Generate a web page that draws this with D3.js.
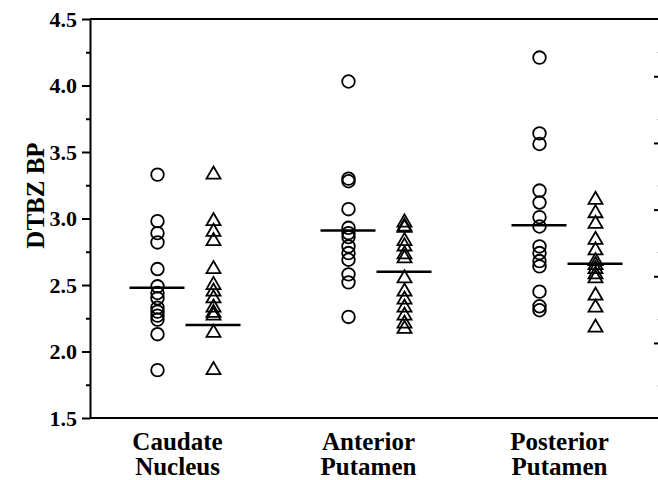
<!DOCTYPE html>
<html>
<head>
<meta charset="utf-8">
<script src="https://cdn.jsdelivr.net/npm/d3@7"></script>
<style>
  body { margin: 0; background: #fff; }
  text { font-family: 'Liberation Serif', 'Times New Roman', serif; font-weight: bold; }
</style>
</head>
<body>
<div id="canvas"></div>
<script>
const regions = ['Caudate Nucleus', 'Anterior Putamen', 'Posterior Putamen']
const labelLines = [['Caudate', 'Nucleus'], ['Anterior', 'Putamen'], ['Posterior', 'Putamen']]

// circles (first group of each region)
const circleValues = [
  [3.33, 2.98, 2.89, 2.82, 2.62, 2.49, 2.44, 2.40, 2.33, 2.30, 2.27, 2.24, 2.13, 1.86],
  [4.03, 3.30, 3.28, 3.07, 2.93, 2.89, 2.86, 2.79, 2.74, 2.69, 2.58, 2.52, 2.26],
  [4.21, 3.64, 3.56, 3.21, 3.12, 3.01, 2.94, 2.79, 2.74, 2.68, 2.64, 2.45, 2.34, 2.31]
]
// triangles (second group of each region)
const triangleValues = [
  [3.33, 2.98, 2.90, 2.83, 2.62, 2.50, 2.45, 2.40, 2.33, 2.29, 2.27, 2.14, 1.86],
  [2.97, 2.94, 2.93, 2.83, 2.79, 2.73, 2.70, 2.55, 2.45, 2.39, 2.33, 2.27, 2.21, 2.17],
  [3.14, 3.04, 2.96, 2.84, 2.76, 2.68, 2.65, 2.62, 2.58, 2.55, 2.42, 2.33, 2.18]
]
const circleMeans = [2.48, 2.91, 2.95]
const triangleMeans = [2.20, 2.60, 2.66]

const yTicks = [1.5, 2.0, 2.5, 3.0, 3.5, 4.0, 4.5]
const yMinorTicks = [1.75, 2.25, 2.75, 3.25, 3.75, 4.25]
// ticks of the neighbouring panel's axis at the right edge
const rightTicks = [2.0, 2.5, 3.0, 3.5, 4.0]
const rightMinorTicks = [1.68, 2.18, 2.68, 3.18, 3.68, 4.18]

const width = 658
const height = 480
const margin = { top: 19, bottom: 62, left: 90, right: -5 }

const svg = d3.select('#canvas')
  .append('svg')
    .attr('width', width)
    .attr('height', height)

const x = d3.scaleBand()
  .domain(regions)
  .range([margin.left, width - margin.right])

const y = d3.scaleLinear()
  .domain([1.5, 4.5])
  .range([height - margin.bottom, margin.top])

const yRight = d3.scaleLinear()
  .domain([1.5, 4.5])
  .range([409.6, 9.6])

const offset = 28

// frame lines top and bottom
svg.append('line')
  .attr('x1', margin.left).attr('x2', width - margin.right)
  .attr('y1', y(4.5)).attr('y2', y(4.5))
  .attr('stroke', '#000').attr('stroke-width', 2)
svg.append('line')
  .attr('x1', margin.left).attr('x2', width - margin.right)
  .attr('y1', y(1.5)).attr('y2', y(1.5))
  .attr('stroke', '#000').attr('stroke-width', 2)

// left axis
const yAxis = svg.append('g')
  .attr('transform', `translate(${margin.left}, 0)`)
  .call(d3.axisLeft(y)
    .tickValues(yTicks)
    .tickSize(8)
    .tickSizeOuter(0)
    .tickPadding(5)
    .tickFormat(d3.format('.1f')))
yAxis.select('.domain').attr('stroke-width', 2)
yAxis.selectAll('.tick line').attr('stroke-width', 2)
yAxis.selectAll('.tick text')
  .attr('font-size', '22px')
  .attr('font-family', "'Liberation Serif', serif")
  .attr('font-weight', 'bold')
  .attr('fill', '#000')

const yMinor = svg.append('g')
  .attr('transform', `translate(${margin.left}, 0)`)
  .call(d3.axisLeft(y).tickValues(yMinorTicks).tickSize(4).tickFormat(''))
yMinor.select('.domain').remove()
yMinor.selectAll('.tick line').attr('stroke-width', 2)

// right edge ticks
const rAxis = svg.append('g')
  .attr('transform', `translate(662, 0)`)
  .call(d3.axisLeft(yRight).tickValues(rightTicks).tickSize(8).tickFormat(''))
rAxis.select('.domain').remove()
rAxis.selectAll('.tick line').attr('stroke-width', 2)
const rMinor = svg.append('g')
  .attr('transform', `translate(660, 0)`)
  .call(d3.axisLeft(yRight).tickValues(rightMinorTicks).tickSize(3).tickFormat(''))
rMinor.select('.domain').remove()
rMinor.selectAll('.tick line').attr('stroke', '#aaa').attr('stroke-width', 1)

// y title
svg.append('text')
  .attr('transform', `translate(44, ${y(3.0) - 23}) rotate(-90)`)
  .attr('text-anchor', 'middle')
  .attr('font-size', '25px')
  .text('DTBZ BP')

// category labels
const labels = svg.append('g')
regions.forEach((r, i) => {
  const t = labels.append('text')
    .attr('text-anchor', 'middle')
    .attr('font-size', '25px')
    .attr('x', x(r) + x.bandwidth() / 2 - 8)
  labelLines[i].forEach((s, j) => {
    t.append('tspan')
      .attr('x', x(r) + x.bandwidth() / 2 - 8)
      .attr('y', 450 + j * 25)
      .text(s)
  })
})

const circleSym = d3.symbol().type(d3.symbolCircle).size(125)
const triSym = d3.symbol().type(d3.symbolTriangle).size(85)

regions.forEach((r, i) => {
  const cx = x(r) + x.bandwidth() / 2
  svg.append('g').selectAll('path')
    .data(circleValues[i])
    .join('path')
      .attr('d', circleSym)
      .attr('transform', d => `translate(${cx - offset}, ${y(d)})`)
      .attr('fill', 'none')
      .attr('stroke', '#000')
      .attr('stroke-width', 1.8)
  svg.append('g').selectAll('path')
    .data(triangleValues[i])
    .join('path')
      .attr('d', triSym)
      .attr('transform', d => `translate(${cx + offset}, ${y(d)})`)
      .attr('fill', 'none')
      .attr('stroke', '#000')
      .attr('stroke-width', 1.8)

  svg.append('line')
    .attr('x1', cx - offset - 28).attr('x2', cx - offset + 27)
    .attr('y1', y(circleMeans[i])).attr('y2', y(circleMeans[i]))
    .attr('stroke', '#000').attr('stroke-width', 2.5)
  svg.append('line')
    .attr('x1', cx + offset - 28).attr('x2', cx + offset + 27)
    .attr('y1', y(triangleMeans[i])).attr('y2', y(triangleMeans[i]))
    .attr('stroke', '#000').attr('stroke-width', 2.5)
})
</script>
</body>
</html>
